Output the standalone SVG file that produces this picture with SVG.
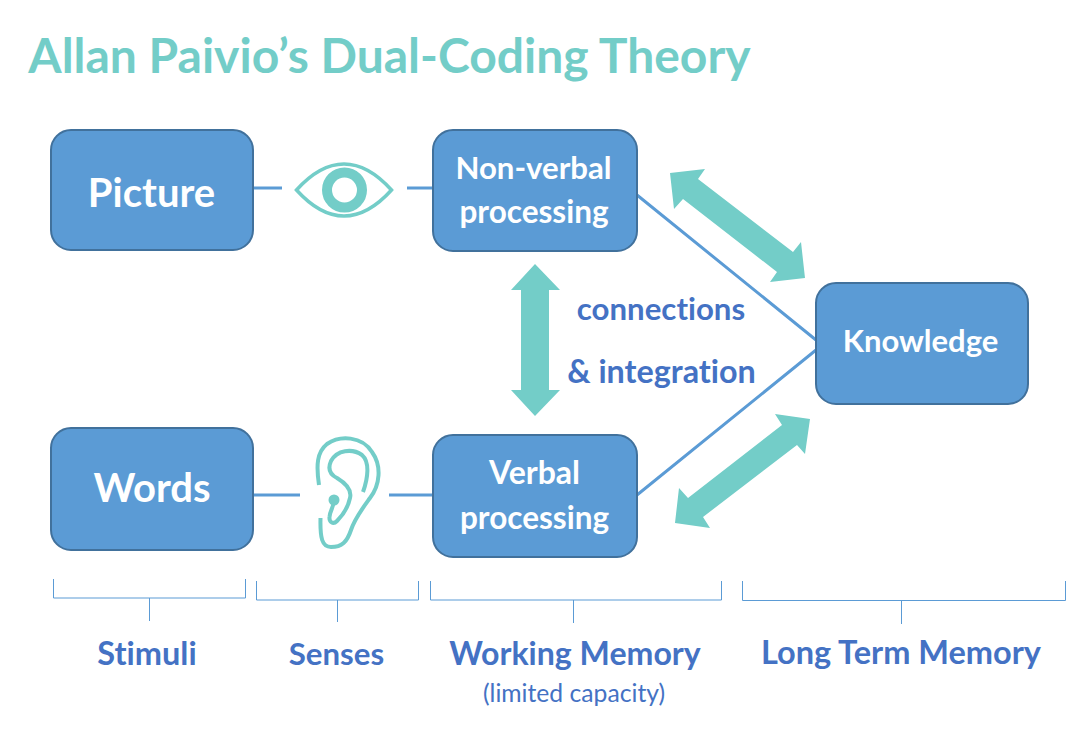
<svg xmlns="http://www.w3.org/2000/svg" width="1091" height="744" viewBox="0 0 1091 744">
<style>
text{font-family:"Lato","Open Sans","Liberation Sans",sans-serif;font-weight:700;text-anchor:middle;font-variant-ligatures:none}
.box{fill:#5b9bd5;stroke:#41719c;stroke-width:2}
.w{fill:#fff}
.b{fill:#4472c4}
.t{fill:#73cdc8}
.ln{stroke:#5b9bd5;stroke-width:3;fill:none}
.br{stroke:#5b9bd5;stroke-width:1;fill:none}
.ic{stroke:#73cdc8;fill:none}
</style>
<rect width="1091" height="744" fill="#fff"/>
<text id="title" class="t" x="389.500" y="72.500" font-size="48">Allan Paivio’s Dual-Coding Theory</text>
<g id="connectors">
<path class="ln" d="M253 188H282M407 188H433M253 495H300M389 495H433"/>
<path class="ln" d="M637 195L816 340M637 495L816 350"/>
<polygon class="t" points="670,173 705,169 698,179 793,252 801,242 805,278 770,282 777,272 683,199 674,209"/>
<polygon class="t" points="810,419 775,414 782,425 688,498 679,488 675,523 710,528 703,517 797,445 805,454"/>
<polygon class="t" points="535,264 560,290 549,290 549,390 560,390 535,416 511,390 521,390 521,290 511,290"/>
</g>
<g id="picture"><rect class="box" x="51" y="130" width="202" height="120" rx="20"/><text class="w" x="151.500" y="207" font-size="40">Picture</text></g>
<g id="words"><rect class="box" x="51" y="428" width="202" height="122" rx="20"/><text class="w" x="152" y="502" font-size="40">Words</text></g>
<g id="nonverbal"><rect class="box" x="433" y="130" width="204" height="121" rx="20"/><text class="w" x="533.500" y="178.500" font-size="31.200">Non-verbal</text><text class="w" x="534" y="222.500" font-size="31.500">processing</text></g>
<g id="verbal"><rect class="box" x="433" y="435" width="204" height="122" rx="20"/><text class="w" x="534.500" y="483.500" font-size="32">Verbal</text><text class="w" x="534.500" y="528.500" font-size="31.500">processing</text></g>
<g id="knowledge"><rect class="box" x="816" y="283" width="212" height="121" rx="20"/><text class="w" x="920.500" y="351.500" font-size="31">Knowledge</text></g>
<g id="eye">
<path class="ic" stroke-width="3.500" d="M296.500 190Q320 164 344 164Q368 164 391.500 190Q368 216 344 216Q320 216 296.500 190Z"/>
<circle class="ic" cx="344.500" cy="190" r="17.500" stroke-width="10"/>
</g>
<g id="ear">
<path class="ic" stroke-width="4" d="M319 485C316 465 317 452 327 444C340 435 362 436 372 452C382 466 380 485 370 498C362 509 355 518 351 530C347 542 342 547 331 547C322 547 320 538 320.500 518"/>
<path class="ic" stroke-width="4" d="M363 492C368 478 370 462 362 455C352 448 337 450 331 461C327 470 331 475 337 478C347 484 352 490 350 498C348 508 342 516 337 521C333 525 329 522 329.500 517C330 510 334 507 334 500"/>
<circle class="t" cx="334" cy="500" r="5.500"/>
</g>
<g id="brackets">
<path class="br" d="M53.500 579V598H245.500V579M149.500 598V621"/>
<path class="br" d="M256.500 581V600H418.500V581M337.500 600V622"/>
<path class="br" d="M430.500 581V600H721.500V581M573.500 600V623"/>
<path class="br" d="M742.500 581V600.500H1065.500V581M901.500 600V624"/>
</g>
<g id="labels">
<text class="b" x="661" y="319.500" font-size="31.200">connections</text>
<text class="b" x="661.500" y="382.500" font-size="32.300">&amp; integration</text>
<text class="b" x="147" y="664.500" font-size="32.500">Stimuli</text>
<text class="b" x="336.500" y="664.500" font-size="31.200">Senses</text>
<text class="b" x="575" y="664.500" font-size="32.100">Working Memory</text>
<text class="b" x="574" y="701.500" font-size="24.700" style="font-weight:400">(limited capacity)</text>
<text class="b" x="901" y="663.500" font-size="32.500">Long Term Memory</text>
</g>
</svg>
